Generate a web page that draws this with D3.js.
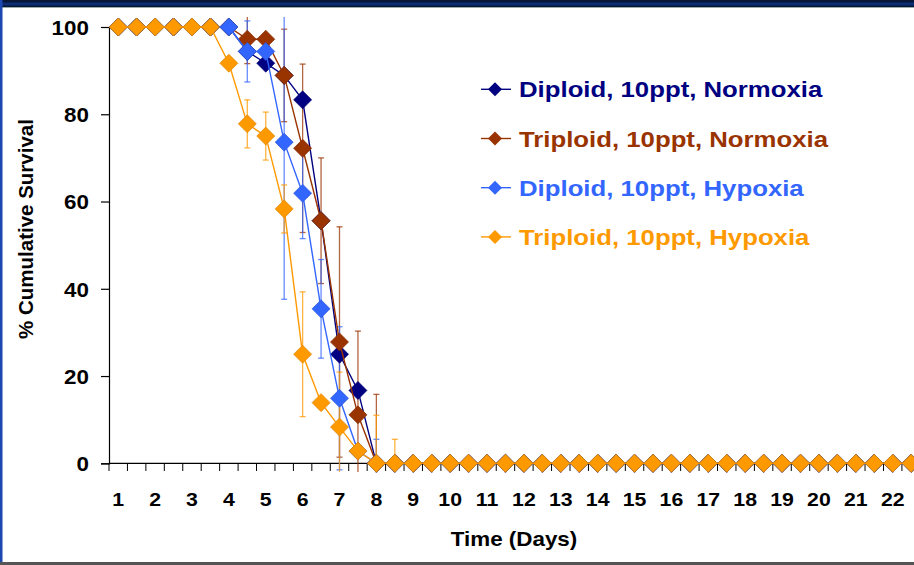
<!DOCTYPE html>
<html lang="en">
<head>
<meta charset="UTF-8"/>
<title>Cumulative survival</title>
<script src="https://d3js.org/d3.v7.min.js"></script>
<style>
  body { margin: 0; background: #fff; }
  text { font-family: "Liberation Sans", Arial, sans-serif; font-weight: bold; }
</style>
</head>
<body>
<svg id="chart"></svg>
<script>
// half-day categories, labels only on whole days
var days = [1, 1.5, 2, 2.5, 3, 3.5, 4, 4.5, 5, 5.5, 6, 6.5, 7, 7.5, 8, 8.5, 9, 9.5, 10, 10.5,
            11, 11.5, 12, 12.5, 13, 13.5, 14, 14.5, 15, 15.5, 16, 16.5, 17, 17.5, 18, 18.5,
            19, 19.5, 20, 20.5, 21, 21.5, 22, 22.5];
var dayLabels = [1, 2, 3, 4, 5, 6, 7, 8, 9, 10, 11, 12, 13, 14, 15, 16, 17, 18, 19, 20, 21, 22];
var yTicks = [0, 20, 40, 60, 80, 100];

var seriesNames = ["Diploid, 10ppt, Normoxia", "Triploid, 10ppt, Normoxia",
                   "Diploid, 10ppt, Hypoxia", "Triploid, 10ppt, Hypoxia"];

var diploidNormoxia = [100, 100, 100, 100, 100, 100, 100, 94.4, 91.7, 88.9, 83.3, 55.6, 25, 16.7, 0, 0,
  0, 0, 0, 0, 0, 0, 0, 0, 0, 0, 0, 0, 0, 0, 0, 0, 0, 0, 0, 0, 0, 0, 0, 0, 0, 0, 0, 0];
var triploidNormoxia = [100, 100, 100, 100, 100, 100, 100, 97.2, 97.2, 88.9, 72.2, 55.6, 27.8, 11.1, 0, 0,
  0, 0, 0, 0, 0, 0, 0, 0, 0, 0, 0, 0, 0, 0, 0, 0, 0, 0, 0, 0, 0, 0, 0, 0, 0, 0, 0, 0];
var diploidHypoxia = [100, 100, 100, 100, 100, 100, 100, 94.4, 94.4, 73.6, 61.9, 35.4, 14.9, 2.8, 0, 0,
  0, 0, 0, 0, 0, 0, 0, 0, 0, 0, 0, 0, 0, 0, 0, 0, 0, 0, 0, 0, 0, 0, 0, 0, 0, 0, 0, 0];
var triploidHypoxia = [100, 100, 100, 100, 100, 100, 91.7, 77.8, 75, 58.3, 25, 13.9, 8.3, 2.8, 0, 0,
  0, 0, 0, 0, 0, 0, 0, 0, 0, 0, 0, 0, 0, 0, 0, 0, 0, 0, 0, 0, 0, 0, 0, 0, 0, 0, 0, 0];

// +/- error (0 = no bar), only the early days have any
var errDiploidNormoxia  = [0, 0, 0, 0, 0, 0, 0, 0, 0, 0, 0, 0, 0, 0, 0, 0];
var errTriploidNormoxia = [0, 0, 0, 0, 0, 0, 0, 5.6, 0, 10.6, 19.3, 14.4, 26.4, 19.2, 15.8, 0];
var errDiploidHypoxia   = [0, 0, 0, 0, 0, 0, 0, 7.0, 0, 36, 10.4, 11.3, 16.4, 0, 5.5, 0];
var errTriploidHypoxia  = [0, 0, 0, 0, 0, 0, 0, 5.5, 5.5, 5.5, 14.3, 0, 12.6, 0, 11, 5.5];

var colors = ["#000080", "#993300", "#3366ff", "#ff9900"];

var values = [diploidNormoxia, triploidNormoxia, diploidHypoxia, triploidHypoxia];
var errors = [errDiploidNormoxia, errTriploidNormoxia, errDiploidHypoxia, errTriploidHypoxia];

var width = 914, height = 565;
var stretch = 1.12;

var svg = d3.select("#chart").attr("width", width).attr("height", height);
svg.append("rect").attr("width", width).attr("height", height).attr("fill", "#fff");

var x = d3.scaleBand().domain(days).range([109, 109 + days.length * 18.44]).padding(0);
var y = d3.scaleLinear().domain([0, 100]).range([463.3, 27]);

function diamond(r) { return "M0," + (-r) + "L" + r + ",0L0," + r + "L" + (-r) + ",0Z"; }

// y axis
var yAxis = svg.append("g")
  .attr("transform", "translate(109,0)")
  .call(d3.axisLeft(y).tickValues(yTicks).tickSize(8).tickPadding(10));
yAxis.select(".domain").attr("stroke", "#000").attr("stroke-width", 1.2);
yAxis.selectAll("line").attr("stroke", "#000").attr("stroke-width", 1.2);
yAxis.selectAll("text").attr("font-size", 20).attr("fill", "#000")
  .attr("dy", "0.37em").attr("transform", "scale(" + stretch + ",1)");

// x axis: labels on whole days, ticks on category edges
var xAxis = svg.append("g")
  .attr("transform", "translate(0,463.3)")
  .call(d3.axisBottom(x).tickValues(dayLabels).tickSize(0));
xAxis.select(".domain").remove();
xAxis.selectAll("text").attr("font-size", 19).attr("fill", "#000")
  .attr("y", 43).attr("dy", null).attr("transform", "scale(" + stretch + ",1)");
svg.append("line").attr("x1", 109).attr("x2", width).attr("y1", 463.3).attr("y2", 463.3)
  .attr("stroke", "#000").attr("stroke-width", 1.2);
svg.append("g").selectAll("line").data(days).join("line")
  .attr("x1", d => x(d)).attr("x2", d => x(d))
  .attr("y1", 463.3).attr("y2", 471)
  .attr("stroke", "#000").attr("stroke-width", 1);

// titles
svg.append("text").attr("transform", "translate(514,546) scale(" + stretch + ",1)")
  .attr("text-anchor", "middle").attr("font-size", 20).text("Time (Days)");
svg.append("text").attr("transform", "translate(33,229) rotate(-90)")
  .attr("text-anchor", "middle").attr("font-size", 20.5).text("% Cumulative Survival");

// error bars first, clipped to the plot area
svg.append("clipPath").attr("id", "clip").append("rect")
  .attr("x", 100).attr("y", 17).attr("width", width).attr("height", 455);
var bars = svg.append("g").attr("clip-path", "url(#clip)");
errors.forEach(function (err, s) {
  var pts = [];
  err.forEach(function (e, i) { if (e > 0) pts.push({ day: days[i], v: values[s][i], e: e }); });
  var g = bars.append("g").attr("stroke", colors[s]).attr("stroke-opacity", 0.75).attr("stroke-width", 1.3);
  var cx = d => x(d.day) + x.bandwidth() / 2;
  g.selectAll(".v").data(pts).join("line")
    .attr("x1", cx).attr("x2", cx)
    .attr("y1", d => y(d.v + d.e)).attr("y2", d => y(d.v - d.e));
  g.selectAll(".t").data(pts).join("line")
    .attr("x1", d => cx(d) - 3).attr("x2", d => cx(d) + 3)
    .attr("y1", d => y(d.v + d.e)).attr("y2", d => y(d.v + d.e));
  g.selectAll(".b").data(pts).join("line")
    .attr("x1", d => cx(d) - 3).attr("x2", d => cx(d) + 3)
    .attr("y1", d => y(d.v - d.e)).attr("y2", d => y(d.v - d.e));
});

// lines and markers
var line = d3.line()
  .x((d, i) => x(days[i]) + x.bandwidth() / 2)
  .y(d => y(d));
values.forEach(function (vals, s) {
  svg.append("path").datum(vals).attr("d", line)
    .attr("fill", "none").attr("stroke", colors[s]).attr("stroke-width", 1.4);
  svg.append("g").selectAll("path").data(vals).join("path")
    .attr("transform", (d, i) => "translate(" + (x(days[i]) + x.bandwidth() / 2) + "," + y(d) + ")")
    .attr("d", diamond(9))
    .attr("fill", colors[s])
    .attr("stroke", d3.color(colors[s]).darker(0.4))
    .attr("stroke-width", 0.7);
});

// legend
var legend = svg.append("g").selectAll("g").data(seriesNames).join("g")
  .attr("transform", (d, i) => "translate(0," + (89.3 + i * 49.2) + ")");
legend.append("line").attr("x1", 481).attr("x2", 511)
  .attr("stroke", (d, i) => colors[i]).attr("stroke-width", 1.4);
legend.append("path").attr("transform", "translate(495,0)").attr("d", diamond(7))
  .attr("fill", (d, i) => colors[i]);
legend.append("text").attr("transform", "translate(519,8) scale(" + stretch + ",1)")
  .attr("font-size", 23).attr("fill", (d, i) => colors[i]).text(d => d);

// frame
svg.append("rect").attr("x", 0).attr("y", 0).attr("width", width).attr("height", 7).attr("fill", "#061638");
svg.append("rect").attr("x", 0).attr("y", 2.5).attr("width", width).attr("height", 3).attr("fill", "#0c2c74");
svg.append("line").attr("x1", 0).attr("x2", width).attr("y1", 7.5).attr("y2", 7.5).attr("stroke", "#9aa").attr("stroke-width", 1);
svg.append("rect").attr("x", 0).attr("y", 0).attr("width", 2.5).attr("height", height).attr("fill", "#1a48b0");
svg.append("rect").attr("x", 0).attr("y", 562).attr("width", width).attr("height", 3).attr("fill", "#555");
</script>
</body>
</html>
